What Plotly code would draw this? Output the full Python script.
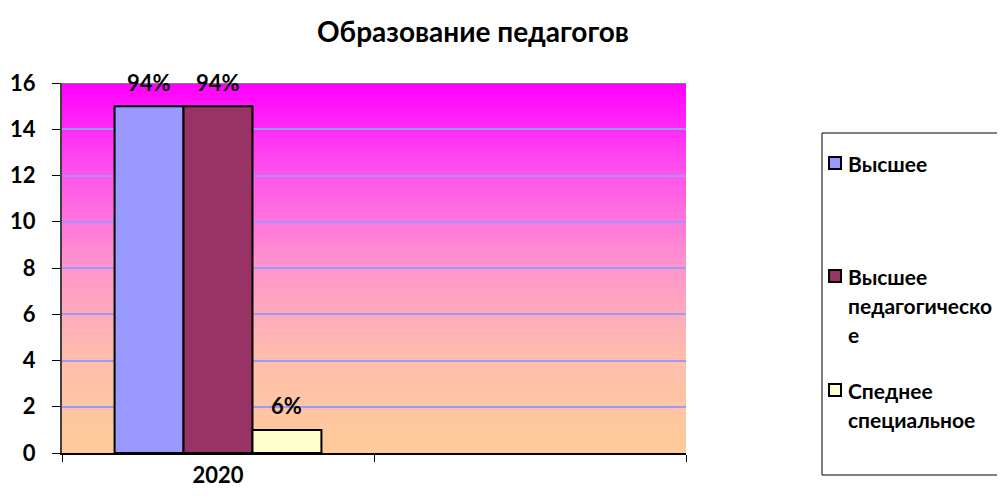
import plotly.graph_objects as go

# ---- data ----
categories = ["2020", " "]
series_names = ["Высшее", "Высшее педагогическое", "Спеднее специальное"]
series_values = [15, 15, 1]
value_labels = ["94%", "94%", "6%"]
legend_lines = [["Высшее"], ["Высшее", "педагогическо", "е"], ["Спеднее", "специальное"]]
y_ticks = [0, 2, 4, 6, 8, 10, 12, 14, 16]
title_text = "Образование педагогов"

# ---- styles / layout ----
bar_colors = ["#9999FF", "#993366", "#FFFFCC"]
FONT = "Lato"
OFF = 8                      # page body margin
W, H = 1005 - 2 * OFF, 498 - 2 * OFF
ML, MT = 62 - OFF, 83 - OFF
PW, PH = 624, 370
MR = W - ML - PW
MB = H - MT - PH
BARGAP = 0.337

fig = go.Figure()
for name, val, col in zip(series_names, series_values, bar_colors):
    fig.add_trace(go.Bar(
        x=[categories[0]], y=[val], name=name,
        marker=dict(color=col, line=dict(color="black", width=2)),
        showlegend=False, hoverinfo="skip",
    ))

# gradient background stripes (style only)
stops = [(0.0, (255, 204, 153)), (0.25, (255, 190, 172)), (0.5, (255, 150, 204)),
         (0.75, (255, 85, 235)), (1.0, (255, 0, 255))]

def grad(t):
    for (t0, c0), (t1, c1) in zip(stops[:-1], stops[1:]):
        if t0 <= t <= t1:
            f = (t - t0) / (t1 - t0)
            return "rgb(%d,%d,%d)" % tuple(round(a + (b - a) * f) for a, b in zip(c0, c1))
    return "rgb(255,0,255)"

N = 90
ymax = y_ticks[-1]
shapes = []
for i in range(N):
    y0 = ymax * i / N
    y1 = ymax * (i + 1.3) / N
    shapes.append(dict(type="rect", xref="x domain", yref="y", x0=0, x1=1,
                       y0=y0, y1=min(y1, ymax), fillcolor=grad((i + 0.5) / N),
                       line=dict(width=0), layer="below"))
shapes.append(dict(type="line", xref="x domain", yref="y", x0=0, x1=1, y0=ymax, y1=ymax,
                   line=dict(color="#808080", width=2)))

# value labels above bars
group_w = PW / len(categories) * (1 - BARGAP)
bar_w = group_w / len(series_names)
annotations = []
cat_index = categories.index(categories[0])
for i, (val, lab) in enumerate(zip(series_values, value_labels)):
    annotations.append(dict(x=cat_index, y=val, xref="x", yref="y",
                            text="<b>%s</b>" % lab, showarrow=False, yanchor="middle",
                            xshift=(i - (len(series_names) - 1) / 2) * bar_w, yshift=24,
                            font=dict(family=FONT, size=22, color="black")))

# manual legend (pixel positions in reference coordinates)
def px_x(px):
    return (px - OFF - ML) / PW

def px_y(py):
    return (H - MB - (py - OFF)) / PH

shapes.append(dict(type="rect", xref="paper", yref="paper", x0=px_x(822), x1=px_x(1012),
                   y0=px_y(475), y1=px_y(133), line=dict(color="black", width=1),
                   fillcolor="white", layer="below"))
item_y = [163, 276, 390]
line_h = 29
for lines, col, yy in zip(legend_lines, bar_colors, item_y):
    shapes.append(dict(type="rect", xref="paper", yref="paper",
                       x0=px_x(829), x1=px_x(841), y0=px_y(yy + 6), y1=px_y(yy - 6),
                       fillcolor=col, line=dict(color="black", width=2)))
    for k, ln in enumerate(lines):
        annotations.append(dict(x=px_x(846), y=px_y(yy + k * line_h), xref="paper", yref="paper",
                                xanchor="left", yanchor="middle", text="<b>%s</b>" % ln,
                                showarrow=False, font=dict(family=FONT, size=21, color="black")))

fig.update_layout(
    width=W, height=H,
    margin=dict(l=ML, r=MR, t=MT, b=MB, pad=0, autoexpand=False),
    paper_bgcolor="white", plot_bgcolor="rgba(0,0,0,0)",
    barmode="group", bargap=BARGAP, bargroupgap=0,
    title=dict(text="<b>%s</b>" % title_text, x=(473 - OFF) / W, xanchor="center",
               y=1 - (32 - OFF) / H, yanchor="middle", xref="container", yref="container",
               font=dict(family=FONT, size=28, color="black")),
    shapes=shapes, annotations=annotations,
    font=dict(family=FONT, color="black"),
)
fig.update_xaxes(type="category", categoryorder="array", categoryarray=categories,
                 range=[-0.5, len(categories) - 0.5], tickson="boundaries",
                 ticks="outside", ticklen=7, tickcolor="black", tickwidth=1,
                 showline=True, linecolor="black", linewidth=2, showgrid=False,
                 ticklabelstandoff=2, automargin=False,
                 tickfont=dict(family=FONT, size=22, color="black", weight="bold"))
fig.update_yaxes(range=[0, ymax], tickvals=y_ticks, ticks="outside", ticklen=8,
                 tickcolor="black", showline=True, linecolor="#404040", linewidth=2,
                 showgrid=True, gridcolor="#9999FF", gridwidth=2, zeroline=False,
                 ticklabelstandoff=12, automargin=False,
                 tickfont=dict(family=FONT, size=22, color="black", weight="bold"))

fig.write_html("out.html")
